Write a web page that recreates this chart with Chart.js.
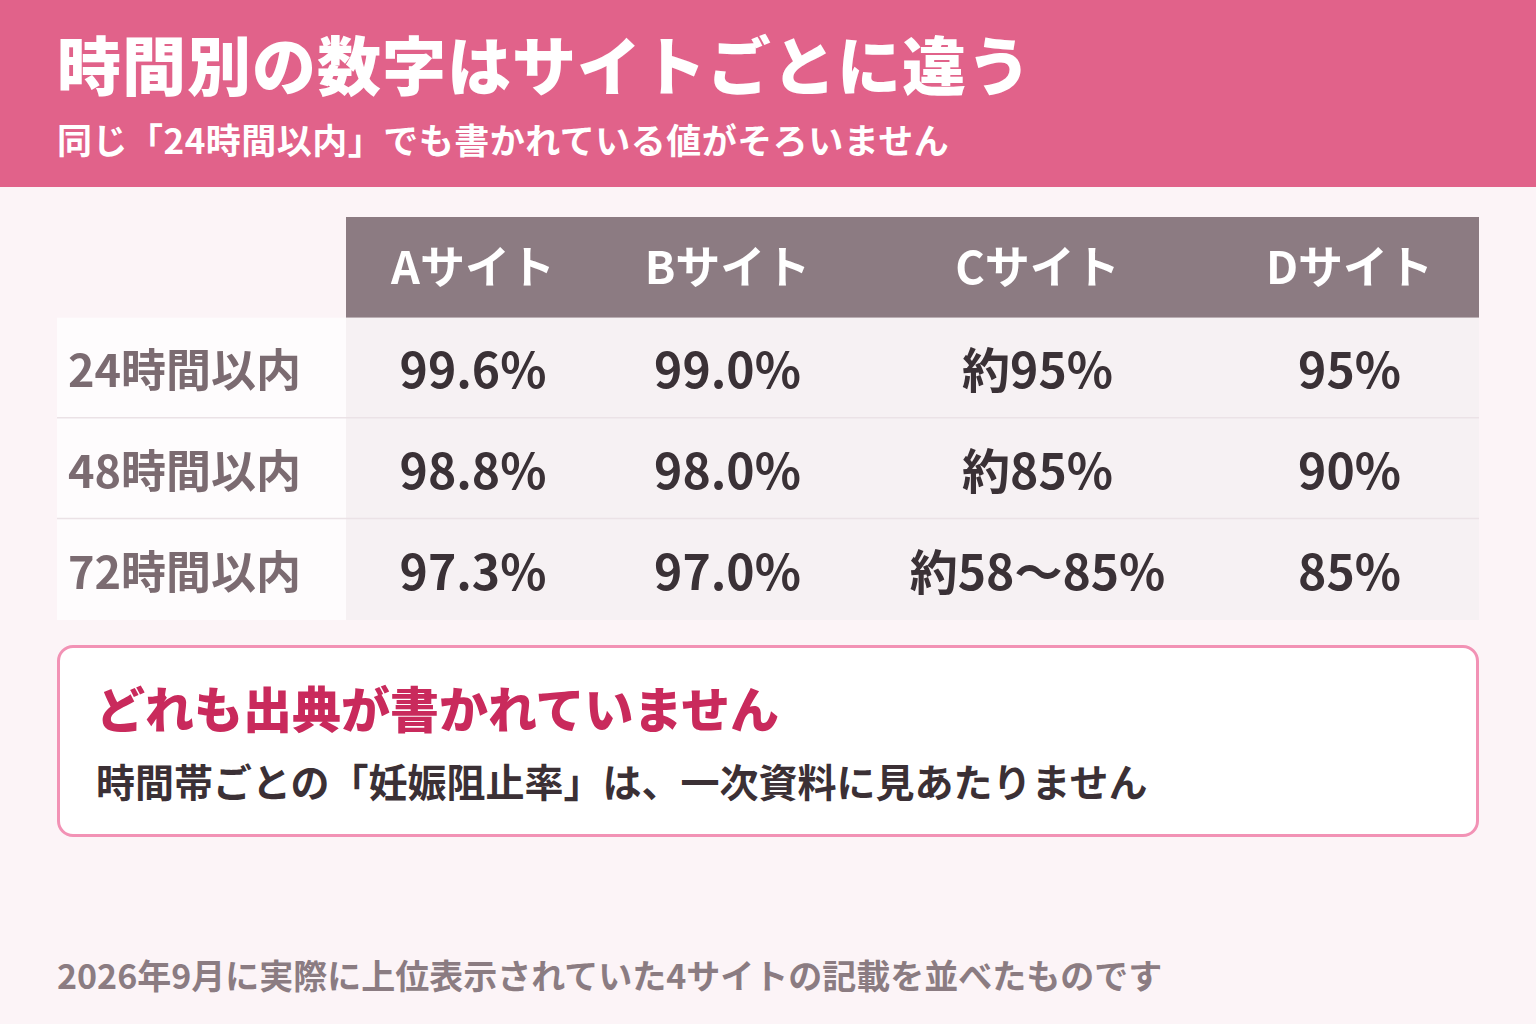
<!DOCTYPE html>
<html lang="ja">
<head>
<meta charset="utf-8">
<script src="https://cdn.jsdelivr.net/npm/chart.js@4.4.1/dist/chart.umd.min.js"></script>
<style>
  html, body { margin: 0; padding: 0; }
  body { width: 1536px; height: 1024px; background: #fcf4f7; position: relative; overflow: hidden;
         font-family: "Noto Sans CJK JP", "Noto Sans", sans-serif; }
  .banner { position: absolute; left: 0; top: 0; width: 1536px; height: 187px; background: #e1628a; }
  .banner h1 { position: absolute; left: 57px; top: 30px; margin: 0; color: #fff; font-size: 64px; font-weight: 900; letter-spacing: 1px; line-height: 1; }
  .banner p { position: absolute; left: 57px; top: 121px; margin: 0; color: #fff; font-size: 35px; font-weight: 700; letter-spacing: 0.5px; line-height: 1; }
  #tbl { position: absolute; left: 57px; top: 217px; }
  .note { position: absolute; left: 57px; top: 645px; width: 1416px; height: 186px; background: #fff;
          border: 3px solid #f292b5; border-radius: 16px; }
  .note h2 { position: absolute; left: 36px; top: 34px; margin: 0; color: #c92a5c; font-size: 49px; font-weight: 900; line-height: 1; }
  .note p { position: absolute; left: 36px; top: 113px; margin: 0; color: #3b3035; font-size: 39px; font-weight: 700; line-height: 1; }
  .foot { position: absolute; left: 57px; top: 958px; margin: 0; color: #8b7c82; font-size: 34px; font-weight: 700; line-height: 1; }
</style>
</head>
<body>
<div class="banner">
  <h1>時間別の数字はサイトごとに違う</h1>
  <p>同じ「24時間以内」でも書かれている値がそろいません</p>
</div>
<canvas id="tbl" width="1422" height="403"></canvas>
<div class="note">
  <h2>どれも出典が書かれていません</h2>
  <p>時間帯ごとの「妊娠阻止率」は、一次資料に見あたりません</p>
</div>
<p class="foot">2026年9月に実際に上位表示されていた4サイトの記載を並べたものです</p>

<script>
// data
const sites = ['Aサイト', 'Bサイト', 'Cサイト', 'Dサイト'];
const rows = ['24時間以内', '48時間以内', '72時間以内'];
const siteA = ['99.6%', '98.8%', '97.3%'];
const siteB = ['99.0%', '98.0%', '97.0%'];
const siteC = ['約95%', '約85%', '約58〜85%'];
const siteD = ['95%', '90%', '85%'];

// column widths in px (layout only)
const colWidths = [254, 255, 365, 259];
const colEdges = [0];
colWidths.forEach(w => colEdges.push(colEdges[colEdges.length - 1] + w));

const values = [siteA, siteB, siteC, siteD];
const yLabels = ['header'].concat(rows);

const tablePlugin = {
  id: 'tablePlugin',
  afterDraw(chart) {
    const ctx = chart.ctx;
    const x = chart.scales.x, y = chart.scales.y;
    const ca = chart.chartArea;
    const rowH = (y.getPixelForValue(1) - y.getPixelForValue(0));
    ctx.save();
    ctx.textAlign = 'center';
    ctx.textBaseline = 'middle';
    yLabels.forEach((lab, r) => {
      const cy = y.getPixelForValue(r);
      const top = cy - rowH / 2, bot = cy + rowH / 2;
      if (r === 0) {
        ctx.fillStyle = '#8c7b82';
        ctx.fillRect(ca.left, top, ca.right - ca.left, rowH);
      } else {
        ctx.fillStyle = '#fefcfd';
        ctx.fillRect(0, top, ca.left, rowH);
        ctx.fillStyle = '#f6f1f3';
        ctx.fillRect(ca.left, top, ca.right - ca.left, rowH);
        if (r < yLabels.length - 1) {
          ctx.fillStyle = '#ebe2e6';
          ctx.fillRect(0, bot - 1.5, ca.right, 3);
        }
        ctx.fillStyle = '#7b6b71';
        ctx.font = '700 45px "Noto Sans CJK JP"';
        ctx.textAlign = 'left';
        ctx.fillText(lab, 11, cy + 2);
        ctx.textAlign = 'center';
      }
      sites.forEach((s, c) => {
        const cx = x.getPixelForValue((colEdges[c] + colEdges[c + 1]) / 2);
        if (r === 0) {
          ctx.fillStyle = '#ffffff';
          ctx.font = '700 45px "Noto Sans CJK JP"';
          ctx.fillText(s, cx, cy);
        } else {
          ctx.fillStyle = '#3a3136';
          ctx.font = '700 48px "Noto Sans CJK JP"';
          ctx.fillText(values[c][r - 1], cx, cy + 2);
        }
      });
    });
    ctx.restore();
  }
};

new Chart(document.getElementById('tbl').getContext('2d'), {
  type: 'bar',
  data: { labels: yLabels, datasets: [{ data: [] }] },
  options: {
    responsive: false,
    animation: false,
    devicePixelRatio: 1,
    layout: { padding: { left: 289, right: 0, top: 0, bottom: 0 } },
    plugins: { legend: { display: false }, tooltip: { enabled: false } },
    scales: {
      x: { type: 'linear', min: 0, max: colEdges[colEdges.length - 1], offset: false, display: false },
      y: { type: 'category', labels: yLabels, offset: true, display: false }
    }
  },
  plugins: [tablePlugin]
});
</script>
</body>
</html>
